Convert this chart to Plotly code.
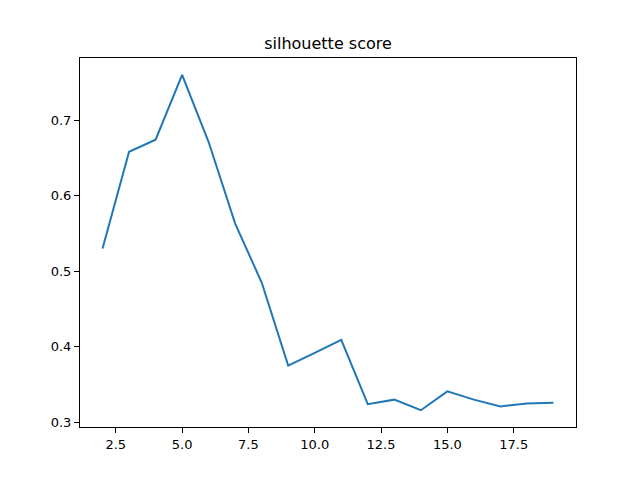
import plotly.graph_objects as go

# number of clusters vs silhouette score
k = [2, 3, 4, 5, 6, 7, 8, 9, 10, 11, 12, 13, 14, 15, 16, 17, 18, 19]
score = [0.530, 0.658, 0.674, 0.760, 0.671, 0.563, 0.485, 0.375, 0.392, 0.409,
         0.324, 0.330, 0.316, 0.341, 0.330, 0.321, 0.325, 0.326]

xticks = [2.5, 5.0, 7.5, 10.0, 12.5, 15.0, 17.5]
yticks = [0.3, 0.4, 0.5, 0.6, 0.7]

fig = go.Figure()
fig.add_trace(go.Scatter(
    x=k, y=score,
    mode='lines',
    line={'color': '#1f77b4', 'width': 2}))

axis_style = dict(
    showline=True, linecolor='black', linewidth=1, mirror=True,
    ticks='outside', ticklen=5, tickcolor='black', tickwidth=1,
    showgrid=False, zeroline=False,
    tickfont=dict(family='DejaVu Sans', size=13, color='black'),
)

# page body has an 8px default margin, so the figure is offset by that much
fig.update_layout(
    width=640, height=480,
    margin=dict(l=72, r=72, t=50, b=61),
    paper_bgcolor='white', plot_bgcolor='white',
    showlegend=False,
    title=dict(text='silhouette score', x=0.5, xref='paper', xanchor='center',
               y=1 - 35 / 480, yanchor='middle',
               font=dict(family='DejaVu Sans', size=16, color='black')),
    xaxis=dict(range=[1.15, 19.85], tickvals=xticks,
               ticktext=['%.1f' % v for v in xticks], **axis_style),
    yaxis=dict(range=[0.2938, 0.7822], tickvals=yticks,
               ticktext=['%.1f' % v for v in yticks], **axis_style),
)

fig.write_html("out.html")
